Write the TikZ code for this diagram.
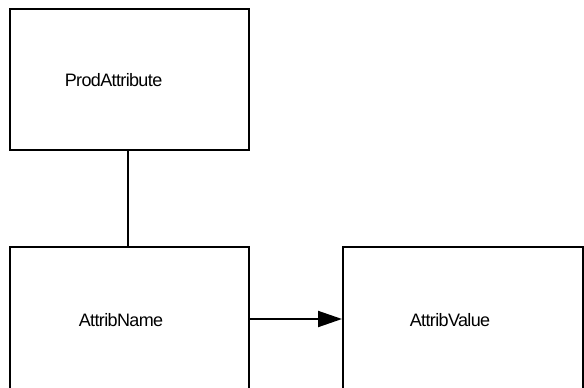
\documentclass[tikz,border=0pt]{standalone}
\usepackage{fontspec}
\setmainfont{Liberation Sans}[LetterSpace=-3.5]
\usetikzlibrary{arrows.meta}

\begin{document}
\begin{tikzpicture}[x=1pt, y=-1pt, line width=2pt,
    entity/.style={draw, rectangle, inner sep=0pt},
    entname/.style={anchor=base, inner sep=0pt, font=\fontsize{18}{20}\selectfont}]
    \useasboundingbox (0,0) rectangle (584,388);
    % entities
    \node[entity, minimum width=239pt, minimum height=141pt] (prodattr) at (129.5,79.5) {};
    \node[entity, minimum width=239pt, minimum height=144pt] (attrname) at (129.5,319) {};
    \node[entity, minimum width=240pt, minimum height=144pt] (attrvalue) at (463,319) {};
    % names
    \node[entname] (prodattrtext) at (113.5,86.7) {ProdAttribute};
    \node[entname] (attrnametext) at (121,326.5) {AttribName};
    \node[entname] (attrvaluetext) at (450,326.5) {AttribValue};
    % relations
    \draw ([xshift=-1.5pt]prodattr.south) -- ([xshift=-1.5pt]attrname.north);
    \draw[-{Triangle[length=24pt, width=16pt]}] (attrname.east) -- (attrvalue.west);
\end{tikzpicture}
\end{document}
